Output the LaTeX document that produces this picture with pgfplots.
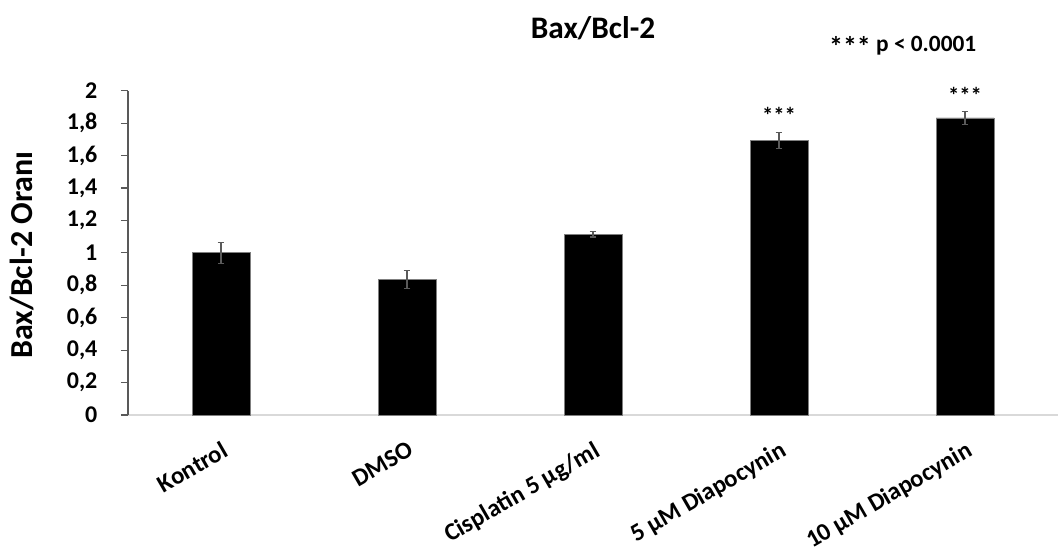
\documentclass[border=0pt]{standalone}
\usepackage{pgfplots}
\pgfplotsset{compat=1.18}
\usepackage{fontspec}
\setmainfont{Carlito}
\definecolor{ygray}{HTML}{595959}
\definecolor{xgray}{HTML}{D9D9D9}
\definecolor{errgray}{HTML}{5A5A5A}
\definecolor{bargray}{HTML}{7F7F7F}
\pgfplotstableread{
x y err
0 1.000 0.063
1 0.838 0.055
2 1.114 0.016
3 1.693 0.049
4 1.832 0.041
}\datatable
\begin{document}
\begin{tikzpicture}
\useasboundingbox (0,0) rectangle (794.25pt,417.75pt);
\begin{axis}[
  at={(96pt,106.5pt)}, anchor=south west,
  width=697.5pt, height=243.2pt, scale only axis,
  clip=false,
  ymin=0, ymax=2,
  ytick={0,0.2,0.4,0.6,0.8,1,1.2,1.4,1.6,1.8,2},
  xmin=-0.5, xmax=4.5,
  xtick={0,1,2,3,4},
  xticklabels={Kontrol, DMSO, Cisplatin 5 µg/ml, 5 µM Diapocynin, 10 µM Diapocynin},
  axis lines*=left,
  x axis line style={draw=xgray, line width=0.9pt},
  y axis line style={draw=ygray, line width=0.9pt},
  tick align=outside,
  major tick length=5.25pt,
  ytick style={draw=ygray, line width=0.9pt},
  xtick style={draw=none},
  /pgf/number format/.cd, use comma, 1000 sep={}, assume math mode=true,
  /pgfplots/.cd,
  yticklabel style={font=\bfseries\fontsize{18}{21}\selectfont, inner sep=0pt, xshift=-17.5pt},
  xticklabel style={font=\bfseries\fontsize{18.5}{22}\selectfont, inner sep=0pt, yshift=-13.5pt, rotate=30, anchor=north east},
]
\addplot[ybar, bar width=43.5pt, fill=black, draw=bargray, line width=0.6pt,
  error bars/.cd, y dir=both, y explicit,
  error bar style={color=errgray, line width=0.8pt},
  error mark options={rotate=90, mark size=2.5pt, color=errgray, line width=0.8pt}]
  table[x=x, y=y, y error=err] {\datatable};
\node[font=\bfseries\fontsize{17}{19}\selectfont] at (axis cs:3,1.85) {***};
\node[font=\bfseries\fontsize{17}{19}\selectfont] at (axis cs:4,1.97) {***};
\node[font=\bfseries\fontsize{23.5}{28}\selectfont] at (axis description cs:0.5,1.193) {Bax/Bcl-2};
\node[font=\bfseries\fontsize{17.5}{20}\selectfont] at (axis description cs:0.833,1.138) {\raisebox{-3pt}{\fontsize{21}{20}\selectfont***} p < 0.0001};
\node[font=\bfseries\fontsize{24}{28}\selectfont, rotate=90] at (axis description cs:-0.114,0.493) {Bax/Bcl-2 Oranı};
\end{axis}
\end{tikzpicture}
\end{document}
